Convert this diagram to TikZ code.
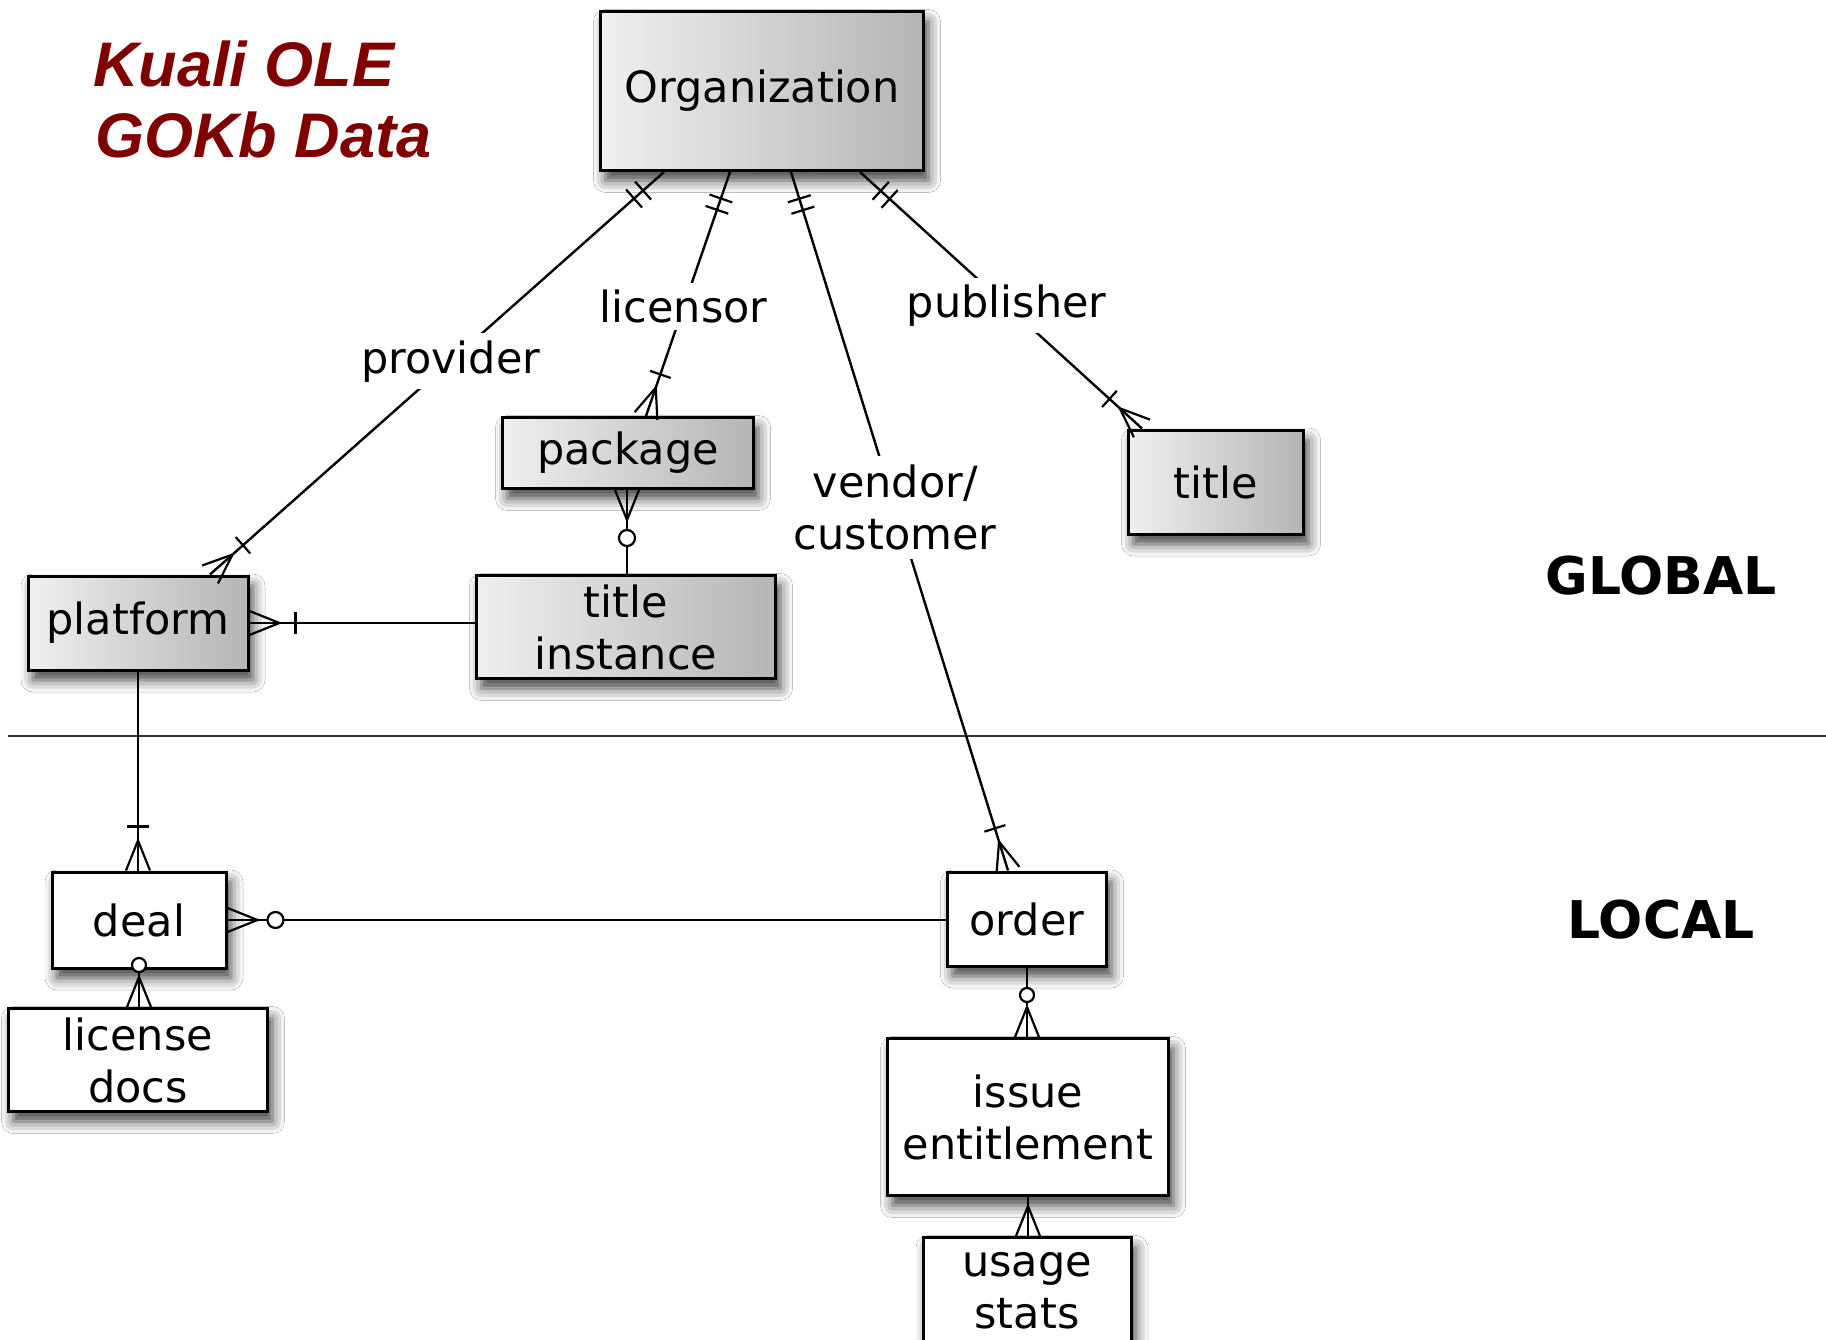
\documentclass[tikz,border=0pt]{standalone}
\usepackage{fontspec}
\newfontfamily\dv{DejaVu Sans}
\newfontfamily\lib{Liberation Sans}
\usetikzlibrary{decorations.markings,shadows.blur}
\definecolor{ttlred}{RGB}{128,0,0}
\tikzset{
  mk/.style={line width=2.2pt, draw=black},
  conn/.style={line width=2.4pt, draw=black},
  boxbase/.style={draw=black, line width=3pt, inner sep=0pt, align=center,
    font={\dv\fontsize{43}{52}\selectfont},
    blur shadow={shadow xshift=5pt, shadow yshift=-10pt, shadow blur radius=12pt, shadow opacity=75}},
  gbox/.style={boxbase, left color=gray!12, right color=gray!58},
  lbox/.style={boxbase, fill=white},
  lbl/.style={fill=white, inner sep=7pt, align=center, font={\dv\fontsize{43}{52}\selectfont}},
  zone/.style={font={\dv\bfseries\fontsize{52}{60}\selectfont}},
  ttl/.style={text=ttlred, font={\lib\bfseries\itshape\fontsize{63}{70}\selectfont}, inner sep=0pt},
  oneoneS/.style={postaction={decorate, decoration={markings,
    mark=at position 28pt with {\draw[mk] (0pt,-12pt) -- (0pt,12pt);},
    mark=at position 40pt with {\draw[mk] (0pt,-12pt) -- (0pt,12pt);}}}},
  manyE/.style={postaction={decorate, decoration={markings,
    mark=at position -30pt with {\draw[mk] (0pt,0pt) -- (30pt,12pt) (0pt,0pt) -- (30pt,-12pt);}}}},
  onemanyE/.style={postaction={decorate, decoration={markings,
    mark=at position -30pt with {\draw[mk] (0pt,0pt) -- (30pt,12pt) (0pt,0pt) -- (30pt,-12pt);},
    mark=at position -44pt with {\draw[mk] (0pt,-11pt) -- (0pt,11pt);}}}},
  zeromanyE/.style={postaction={decorate, decoration={markings,
    mark=at position -30pt with {\draw[mk] (0pt,0pt) -- (30pt,12pt) (0pt,0pt) -- (30pt,-12pt);},
    mark=at position -42pt with {\draw[mk, fill=white] (0pt,0pt) circle (7pt);}}}},
  onemanyS/.style={postaction={decorate, decoration={markings,
    mark=at position 30pt with {\draw[mk] (0pt,0pt) -- (-30pt,12pt) (0pt,0pt) -- (-30pt,-12pt);},
    mark=at position 46pt with {\draw[mk] (0pt,-11pt) -- (0pt,11pt);}}}},
  zeromanyS/.style={postaction={decorate, decoration={markings,
    mark=at position 30pt with {\draw[mk] (0pt,0pt) -- (-30pt,12pt) (0pt,0pt) -- (-30pt,-12pt);},
    mark=at position 48pt with {\draw[mk, fill=white] (0pt,0pt) circle (8pt);}}}},
}
\begin{document}
\begin{tikzpicture}[x=1pt, y=-1pt]
\useasboundingbox (0,0) rectangle (1826,1340);
\clip (0,0) rectangle (1826,1340);
\fill[white] (0,0) rectangle (1826,1340);

% title
\node[ttl, anchor=base west] (t1) at (93,87) {Kuali OLE};
\node[ttl, anchor=base west] (t2) at (95,158) {GOKb Data};

% separator
\coordinate (sepL) at (8,736);
\coordinate (sepR) at (1826,736);
\draw[line width=2.4pt, draw=black!80] (sepL) -- (sepR);

% zone labels
\node[zone] (global) at (1661,576) {GLOBAL};
\node[zone] (local) at (1661,920) {LOCAL};

% global boxes
\node[gbox, minimum width=323, minimum height=159] (org) at (762,91) {Organization};
\node[gbox, minimum width=251, minimum height=71] (pkg) at (628,453) {package};
\node[gbox, minimum width=175, minimum height=104] (title) at (1216,482) {title};
\node[gbox, minimum width=220, minimum height=94] (plat) at (138,623) {platform};
\node[gbox, minimum width=299, minimum height=103] (ti) at (626,627) {title\\instance};

% local boxes
\node[lbox, minimum width=174, minimum height=96] (deal) at (139,920) {deal};
\node[lbox, minimum width=259, minimum height=103] (lic) at (138,1060) {license\\docs};
\node[lbox, minimum width=159, minimum height=94] (order) at (1027,919) {order};
\node[lbox, minimum width=281, minimum height=157] (issue) at (1028,1117) {issue\\entitlement};
\node[lbox, minimum width=208, minimum height=107] (usage) at (1027,1291) {usage\\stats};

% connectors from Organization
\draw[conn, oneoneS, onemanyE] ([xshift=-98pt]org.south) -- node[lbl, pos=0.47] (lprov) {provider} ([xshift=72pt]plat.north);
\draw[conn, oneoneS, onemanyE] ([xshift=-32pt]org.south) -- node[lbl, pos=0.55] (llic) {licensor} ([xshift=18pt]pkg.north);
\draw[conn, oneoneS, onemanyE] ([xshift=29pt]org.south) -- node[lbl, pos=0.48, inner sep=9pt] (lvend) {vendor/\\customer} ([xshift=-19pt]order.north);
\draw[conn, oneoneS, onemanyE] ([xshift=98pt]org.south) -- node[lbl, pos=0.52] (lpub) {publisher} ([xshift=-74pt]title.north);

% other connectors
\draw[conn, zeromanyS] ([xshift=-1pt]pkg.south) -- ([xshift=-1pt]pkg.south |- ti.north);
\draw[conn, onemanyS] (plat.east) -- (plat.east -| ti.west);
\draw[conn, onemanyE] (plat.south) -- (plat.south |- deal.north);
\draw[conn, zeromanyS] (deal.east) -- (deal.east -| order.west);
\draw[conn, zeromanyE] (deal.south) -- (deal.south |- lic.north);
\draw[conn, zeromanyE] (order.south) -- (order.south |- issue.north);
\draw[conn, manyE] (issue.south) -- (issue.south |- usage.north);
\end{tikzpicture}
\end{document}
